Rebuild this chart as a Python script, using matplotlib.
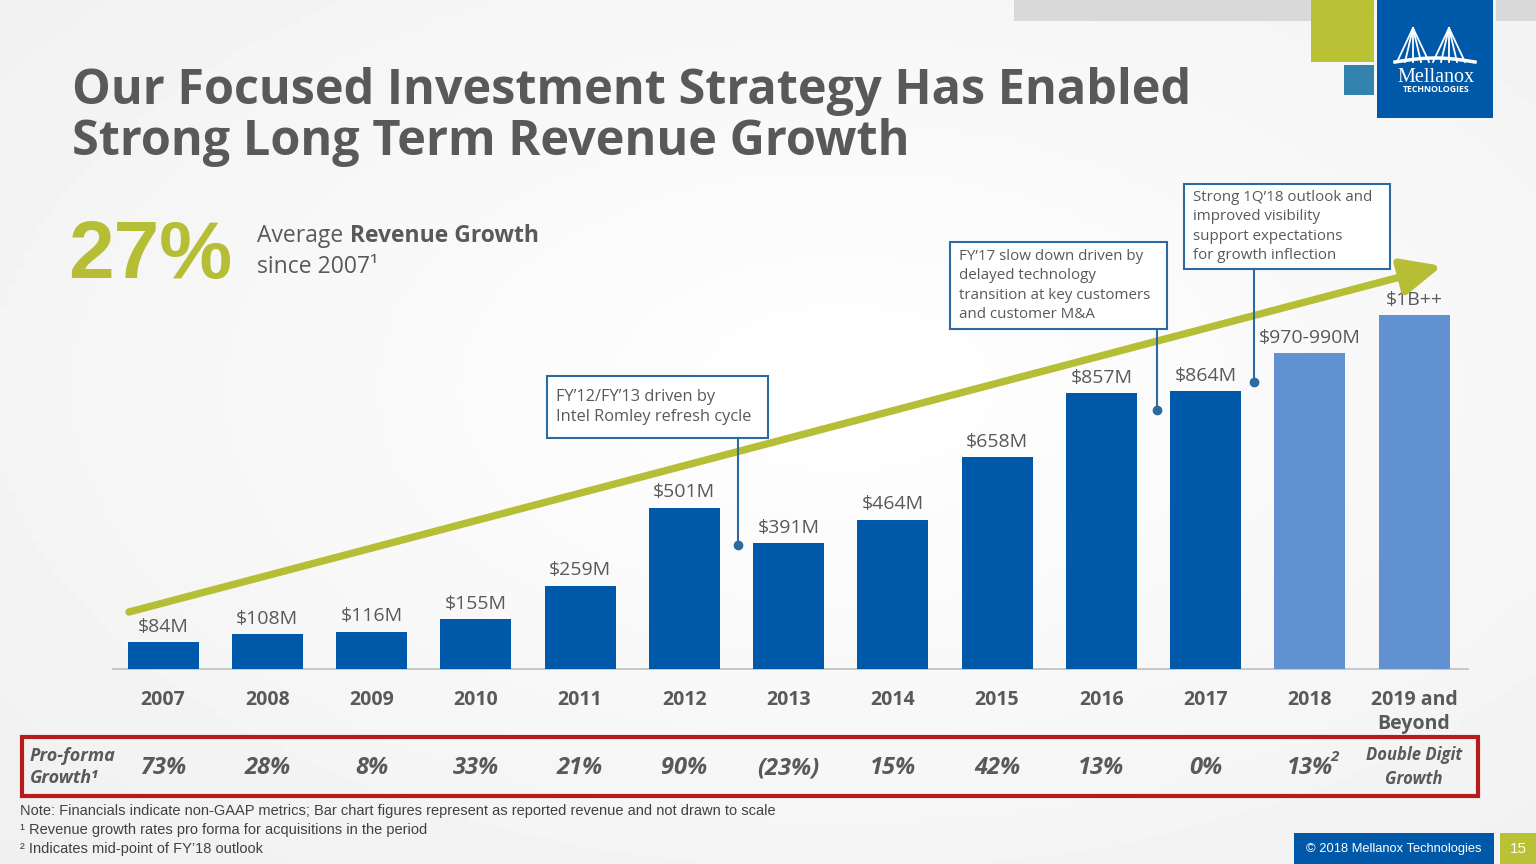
import numpy as np
import matplotlib.pyplot as plt
from matplotlib.patches import Rectangle
from matplotlib.transforms import blended_transform_factory

years = ["2007", "2008", "2009", "2010", "2011", "2012", "2013", "2014",
         "2015", "2016", "2017", "2018", "2019 and\nBeyond"]
revenue = [84, 108, 116, 155, 259, 501, 391, 464, 658, 857, 864, 980, 1100]
rev_labels = ["$84M", "$108M", "$116M", "$155M", "$259M", "$501M", "$391M",
              "$464M", "$658M", "$857M", "$864M", "$970-990M", "$1B++"]
growth = ["73%", "28%", "8%", "33%", "21%", "90%", "(23%)", "15%",
          "42%", "13%", "0%", "13%", "Double Digit\nGrowth"]
projected = [False] * 11 + [True, True]

W, H = 1536, 864
gray_txt = "#595959"
blue = "#0058A8"
light_blue = "#6191D0"
green = "#B5BE35"
box_edge = "#2D6A9F"
body_font = ["Open Sans", "DejaVu Sans"]
note_font = ["Liberation Sans Narrow", "Liberation Sans", "DejaVu Sans"]

fig = plt.figure(figsize=(W / 100, H / 100), dpi=100)

# background gradient
bg = fig.add_axes([0, 0, 1, 1])
yy, xx = np.mgrid[0:1:200j, 0:1:200j]
grad = 0.93 + 0.07 * np.clip(1 - np.hypot(xx - 0.55, yy - 0.45) * 1.1, 0, 1)
bg.imshow(grad, cmap="gray", vmin=0, vmax=1, extent=[0, 1, 0, 1], aspect="auto")
bg.axis("off")

# bar axes
px0, px1 = 113, 1468
spacing = (1414 - 163) / 12
base_px = 669
scale = 0.322  # px per $M
ymax = 1200
ax = fig.add_axes([px0 / W, (H - base_px) / H, (px1 - px0) / W, ymax * scale / H])
ax.set_facecolor("none")
x = np.arange(len(years))
colors = [light_blue if p else blue for p in projected]
bars = ax.bar(x, revenue, width=71 / spacing, color=colors, zorder=3)
ax.bar_label(bars, labels=rev_labels, padding=4.5, fontsize=14, color=gray_txt,
             family=body_font)
ax.set_xlim(-(163 - px0) / spacing, 12 + (px1 - 1414) / spacing)
ax.set_ylim(0, ymax)
ax.set_xticks(x, years, fontsize=14, fontweight="bold", color=gray_txt,
              family=body_font, linespacing=1.3)
ax.tick_params(axis="x", length=0, pad=15)
ax.set_yticks([])
for s in ["top", "right", "left"]:
    ax.spines[s].set_visible(False)
ax.spines["bottom"].set_color("#BFBFBF")
ax.spines["bottom"].set_linewidth(1.2)

# growth row under the years
tr = blended_transform_factory(ax.transData, fig.transFigure)
for i, g in enumerate(growth):
    if "\n" in g:
        ax.text(i, 1 - 767 / H, g, transform=tr, ha="center", va="center",
                fontsize=12, fontweight="bold", style="italic", color=gray_txt,
                family=body_font, linespacing=1.4)
    else:
        ax.text(i, 1 - 768 / H, g, transform=tr, ha="center", va="center",
                fontsize=17, fontweight="bold", style="italic", color=gray_txt,
                family=body_font)
ax.text(11.2, 1 - 757 / H, "2", transform=tr, ha="left", va="center",
        fontsize=11, fontweight="bold", style="italic", color=gray_txt,
        family=body_font)

# overlay in pixel coordinates for slide decorations
ov = fig.add_axes([0, 0, 1, 1])
ov.set_xlim(0, W)
ov.set_ylim(H, 0)
ov.axis("off")
ov.patch.set_alpha(0)

# top-right decorations and logo
ov.add_patch(Rectangle((1014, 0), 301, 21, color="#D9D9D9", lw=0))
ov.add_patch(Rectangle((1496, 0), 40, 21, color="#D9D9D9", lw=0))
ov.add_patch(Rectangle((1311, 0), 63, 62, color="#B9C134", lw=0))
ov.add_patch(Rectangle((1344, 65), 30, 30, color="#3383AE", lw=0))
ov.add_patch(Rectangle((1377, 0), 116, 118, color="#0058A8", lw=0))
for peak in (1413, 1449):
    for foot in (-16, -8, 0, 8, 16):
        ov.plot([peak, peak + foot], [28, 62], color="white", lw=1.3)
deck = np.linspace(1395, 1475, 30)
ov.plot(deck, 62 - 4 * np.sin(np.pi * (deck - 1395) / 80), color="white", lw=2.5)
ov.text(1436, 77, "Mellanox", ha="center", va="center", fontsize=14.5,
        color="white", family=["Liberation Serif", "DejaVu Serif"])
ov.text(1436, 89, "TECHNOLOGIES", ha="center", va="center", fontsize=6.3,
        color="white", fontweight="bold", family=body_font)

# title
ov.text(72, 117, "Our Focused Investment Strategy Has Enabled\nStrong Long Term Revenue Growth",
        ha="left", va="center", fontsize=35, fontweight="bold", color=gray_txt,
        family=body_font, linespacing=1.08)

# 27% headline
ov.text(68, 257, "27%", ha="left", va="center", fontsize=59, fontweight="bold",
        color=green, family=note_font)
ov.text(257, 236, "Average ", ha="left", va="center", fontsize=16.5, color=gray_txt,
        family=body_font)
ov.text(350, 236, "Revenue Growth", ha="left", va="center", fontsize=16.5,
        fontweight="bold", color=gray_txt, family=body_font)
ov.text(257, 267, "since 2007\u00b9", ha="left", va="center", fontsize=16.5,
        color=gray_txt, family=body_font)

# growth arrow
ov.annotate("", xy=(1442, 266), xytext=(129, 612),
            arrowprops=dict(arrowstyle="-|>,head_length=1.1,head_width=0.5",
                            lw=5.3, color=green, shrinkA=0, shrinkB=0,
                            mutation_scale=22))

# callouts
callouts = [
    ((547, 376, 221, 62), "FY\u201912/FY\u201913 driven by\nIntel Romley refresh cycle", (738, 545), 11.8),
    ((950, 242, 217, 87), "FY\u201917 slow down driven by\ndelayed technology\ntransition at key customers\nand customer M&A", (1157, 410), 10.9),
    ((1184, 184, 206, 85), "Strong 1Q\u201918 outlook and\nimproved visibility\nsupport expectations\nfor growth inflection", (1254, 382), 10.9),
]
for (bx, by, bw, bh), txt, (dx, dy), fs in callouts:
    ov.add_patch(Rectangle((bx, by), bw, bh, facecolor="white", edgecolor=box_edge,
                           lw=1.5, zorder=4))
    ov.text(bx + 9, by + bh / 2, txt, ha="left", va="center", fontsize=fs,
            color=gray_txt, family=body_font, linespacing=1.4, zorder=5)
    ov.plot([dx, dx], [by + bh, dy], color=box_edge, lw=1.5, zorder=4)
    ov.plot(dx, dy, "o", color=box_edge, ms=6, zorder=4)

# growth row frame
ov.add_patch(Rectangle((22, 737), 1456, 59, facecolor="none", edgecolor="#B71C1C",
                       lw=3, zorder=4))
ov.text(30, 767, "Pro-forma\nGrowth\u00b9", ha="left", va="center", fontsize=13,
        fontweight="bold", style="italic", color=gray_txt, family=body_font,
        linespacing=1.3)

# footnotes
notes = ["Note: Financials indicate non-GAAP metrics; Bar chart figures represent as reported revenue and not drawn to scale",
         "\u00b9 Revenue growth rates pro forma for acquisitions in the period",
         "\u00b2 Indicates mid-point of FY\u201918 outlook"]
for i, n in enumerate(notes):
    ov.text(20, 811 + 19 * i, n, ha="left", va="center", fontsize=10.5,
            color="#404040", family=note_font)

# footer
ov.add_patch(Rectangle((1294, 833), 200, 31, color="#0058A8", lw=0))
ov.add_patch(Rectangle((1500, 833), 36, 31, color="#B9C134", lw=0))
ov.text(1394, 849, "\u00a9 2018 Mellanox Technologies", ha="center", va="center",
        fontsize=9.3, color="white", family=note_font)
ov.text(1518, 849, "15", ha="center", va="center", fontsize=11, color="white",
        family=note_font)

fig.savefig("out.png", dpi=100)
